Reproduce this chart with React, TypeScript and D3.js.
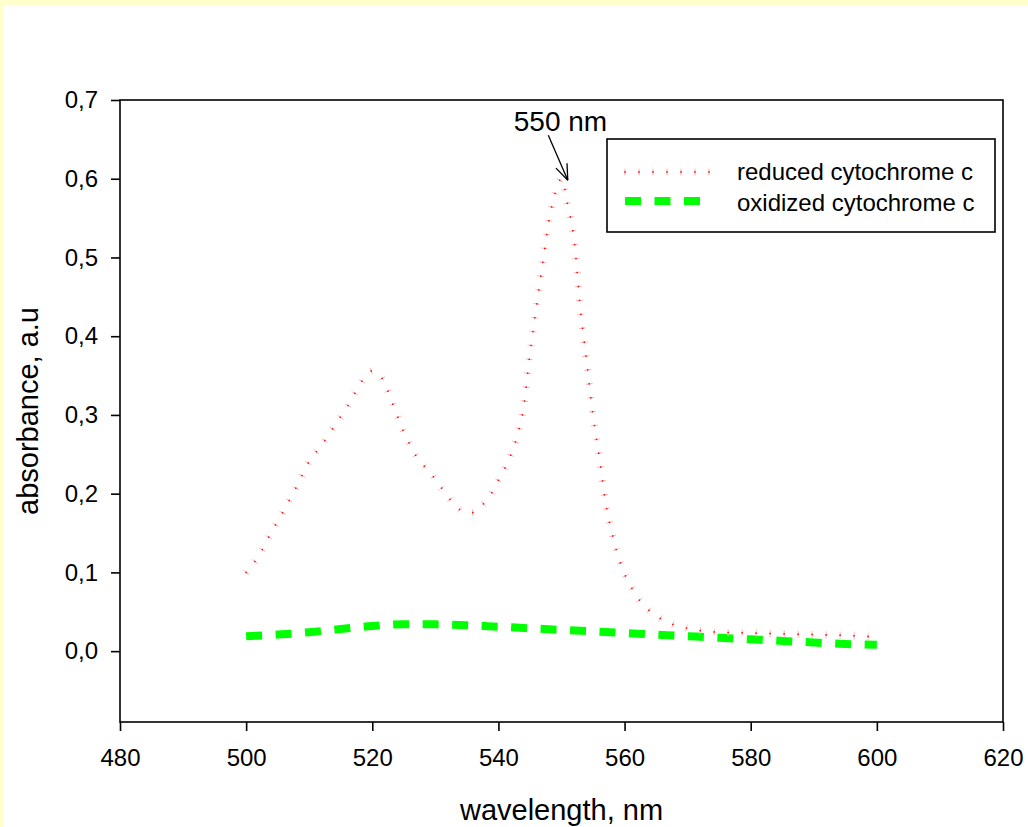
import React, { useRef, useEffect } from "react";
import * as d3 from "d3";

// reduced cytochrome c
const reducedNm = [
  500, 502, 504, 506, 508, 510, 512, 514, 516, 518, 519, 520, 521, 522, 523, 524, 525, 526, 527, 528,
  529, 530, 531, 532, 533, 534, 535, 536, 537, 538, 539, 540, 541, 542, 543, 544, 545, 546, 547, 548,
  549, 550, 551, 552, 553, 554, 555, 556, 557, 558, 559, 560, 561, 562, 563, 564, 565, 566, 567, 568,
  569, 570, 572, 575, 580, 585, 590, 595, 600,
];
const reducedAbs = [
  0.1, 0.121, 0.151, 0.179, 0.209, 0.241, 0.262, 0.286, 0.31, 0.338, 0.35, 0.356, 0.352, 0.34, 0.319, 0.298, 0.278, 0.262, 0.247, 0.237,
  0.229, 0.218, 0.207, 0.196, 0.186, 0.179, 0.176, 0.176, 0.183, 0.19, 0.202, 0.217, 0.232, 0.25, 0.274, 0.31, 0.378, 0.436, 0.492, 0.546,
  0.582, 0.6, 0.566, 0.522, 0.434, 0.367, 0.299, 0.246, 0.188, 0.15, 0.12, 0.098, 0.082, 0.069, 0.058, 0.051, 0.045, 0.04, 0.036, 0.033,
  0.031, 0.029, 0.026, 0.024, 0.023, 0.022, 0.021, 0.02, 0.018,
];

// oxidized cytochrome c
const oxidizedNm = [500, 505, 510, 515, 520, 525, 530, 535, 540, 545, 550, 555, 560, 565, 570, 575, 580, 585, 590, 595, 600];
const oxidizedAbs = [
  0.019, 0.021, 0.024, 0.028, 0.032, 0.034, 0.034, 0.033, 0.031, 0.029, 0.027, 0.025, 0.023, 0.021, 0.019, 0.017, 0.015, 0.013,
  0.011, 0.009, 0.008,
];

const xTicks = [480, 500, 520, 540, 560, 580, 600, 620];
const yTicks = [0, 0.1, 0.2, 0.3, 0.4, 0.5, 0.6, 0.7];
const seriesNames = ["reduced cytochrome c", "oxidized cytochrome c"];
const peakLabel = "550 nm";
const peakPoint = [551, 0.598];

const W = 1028;
const H = 827;
const FONT = "'Liberation Sans', Arial, sans-serif";
const RED_STEP = 14;

const App = () => {
  const ref = useRef(null);

  useEffect(() => {
    const svg = d3.select(ref.current);
    svg.selectAll("*").remove();

    const margin = { left: 120, right: 25, top: 100, bottom: 105 };
    const x = d3.scaleLinear().domain([480, 620]).range([margin.left, W - margin.right]);
    const y = d3.scaleLinear().domain([-0.09, 0.7]).range([H - margin.bottom, margin.top]);
    const fmt = d3.formatLocale({ decimal: ",", thousands: ".", grouping: [3], currency: ["", ""] }).format(".1f");

    // page background
    svg.append("rect").attr("width", W).attr("height", H).attr("fill", "#ffffcc");
    svg.append("rect").attr("x", 3).attr("y", 5).attr("width", W).attr("height", H).attr("fill", "#ffffff");

    // frame
    svg.append("rect")
      .attr("x", x(480)).attr("y", y(0.7))
      .attr("width", x(620) - x(480)).attr("height", y(-0.09) - y(0.7))
      .attr("fill", "none").attr("stroke", "#000").attr("stroke-width", 1.6);

    const yAxis = svg.append("g")
      .attr("transform", `translate(${x(480)},0)`)
      .call(d3.axisLeft(y).tickValues(yTicks).tickFormat(fmt).tickSize(9).tickSizeOuter(0).tickPadding(13));
    const xAxis = svg.append("g")
      .attr("transform", `translate(0,${y(-0.09)})`)
      .call(d3.axisBottom(x).tickValues(xTicks).tickFormat(d3.format("d")).tickSize(9).tickSizeOuter(0).tickPadding(18));
    [xAxis, yAxis].forEach((g) => {
      g.select(".domain").remove();
      g.selectAll("line").attr("stroke", "#000").attr("stroke-width", 1.6);
      g.selectAll("text").attr("fill", "#000").style("font-family", FONT).style("font-size", "24px");
    });

    svg.append("text")
      .attr("x", (x(480) + x(620)) / 2).attr("y", 820)
      .attr("text-anchor", "middle")
      .style("font-family", FONT).style("font-size", "29px")
      .text("wavelength, nm");
    svg.append("text")
      .attr("transform", `translate(38,${(y(-0.09) + y(0.7)) / 2}) rotate(-90)`)
      .attr("text-anchor", "middle")
      .style("font-family", FONT).style("font-size", "29px")
      .text("absorbance, a.u");

    // oxidized: thick green dashes
    const oxLine = d3.line().curve(d3.curveMonotoneX).x((d) => x(d[0])).y((d) => y(d[1]));
    svg.append("path")
      .attr("d", oxLine(oxidizedNm.map((n, i) => [n, oxidizedAbs[i]])))
      .attr("fill", "none").attr("stroke", "#00ff00").attr("stroke-width", 8)
      .attr("stroke-dasharray", "16 13.5");

    // reduced: sparse pink ticks with red centres along the curve
    const redPath = svg.append("path")
      .attr("d", oxLine(reducedNm.map((n, i) => [n, reducedAbs[i]])))
      .attr("fill", "none").attr("stroke", "none");
    const node = redPath.node();
    const total = node.getTotalLength();
    const marks = d3.range(0, total, RED_STEP).map((s) => {
      const p = node.getPointAtLength(s);
      const a = node.getPointAtLength(Math.max(0, s - 0.5));
      const b = node.getPointAtLength(Math.min(total, s + 0.5));
      const len = Math.hypot(b.x - a.x, b.y - a.y) || 1;
      return { x: p.x, y: p.y, nx: -(b.y - a.y) / len, ny: (b.x - a.x) / len };
    });
    const drawMarks = (g, pts) => {
      g.selectAll("line.m").data(pts).enter().append("line")
        .attr("x1", (d) => d.x - d.nx * 3.5).attr("y1", (d) => d.y - d.ny * 3.5)
        .attr("x2", (d) => d.x + d.nx * 3.5).attr("y2", (d) => d.y + d.ny * 3.5)
        .attr("stroke", "#ffb3b3").attr("stroke-width", 1);
      g.selectAll("rect.d").data(pts).enter().append("rect")
        .attr("x", (d) => d.x - 0.75).attr("y", (d) => d.y - 0.75)
        .attr("width", 1.5).attr("height", 1.5).attr("fill", "#ff0000");
    };
    drawMarks(svg.append("g"), marks);

    // annotation arrow
    const tip = [x(peakPoint[0]), y(peakPoint[1])];
    const tail = [tip[0] - 19.5, tip[1] - 45];
    const ang = Math.atan2(tail[1] - tip[1], tail[0] - tip[0]);
    const ann = svg.append("g").attr("stroke", "#000").attr("stroke-width", 1.3);
    ann.append("line").attr("x1", tail[0]).attr("y1", tail[1]).attr("x2", tip[0]).attr("y2", tip[1]);
    [-0.36, 0.36].forEach((da) => {
      ann.append("line")
        .attr("x1", tip[0]).attr("y1", tip[1])
        .attr("x2", tip[0] + 17 * Math.cos(ang + da)).attr("y2", tip[1] + 17 * Math.sin(ang + da));
    });
    svg.append("text")
      .attr("x", tip[0] - 54).attr("y", tip[1] - 49)
      .style("font-family", FONT).style("font-size", "28px")
      .text(peakLabel);

    // legend
    const lg = svg.append("g").attr("transform", "translate(607,139)");
    lg.append("rect").attr("width", 388).attr("height", 93)
      .attr("fill", "#fff").attr("stroke", "#000").attr("stroke-width", 1.6);
    drawMarks(lg.append("g"), d3.range(18, 103, RED_STEP).map((v) => ({ x: v, y: 33, nx: 0, ny: 1 })));
    lg.append("line").attr("x1", 18).attr("x2", 93).attr("y1", 62).attr("y2", 62)
      .attr("stroke", "#00ff00").attr("stroke-width", 8).attr("stroke-dasharray", "16 13.5");
    seriesNames.forEach((name, i) => {
      lg.append("text")
        .attr("x", 130).attr("y", 41 + i * 31)
        .style("font-family", FONT).style("font-size", "24px")
        .text(name);
    });
  });

  return (
    <svg
      ref={ref}
      width={W}
      height={H}
      style={{ position: "absolute", left: 0, top: 0, display: "block" }}
    />
  );
};

export default App;
